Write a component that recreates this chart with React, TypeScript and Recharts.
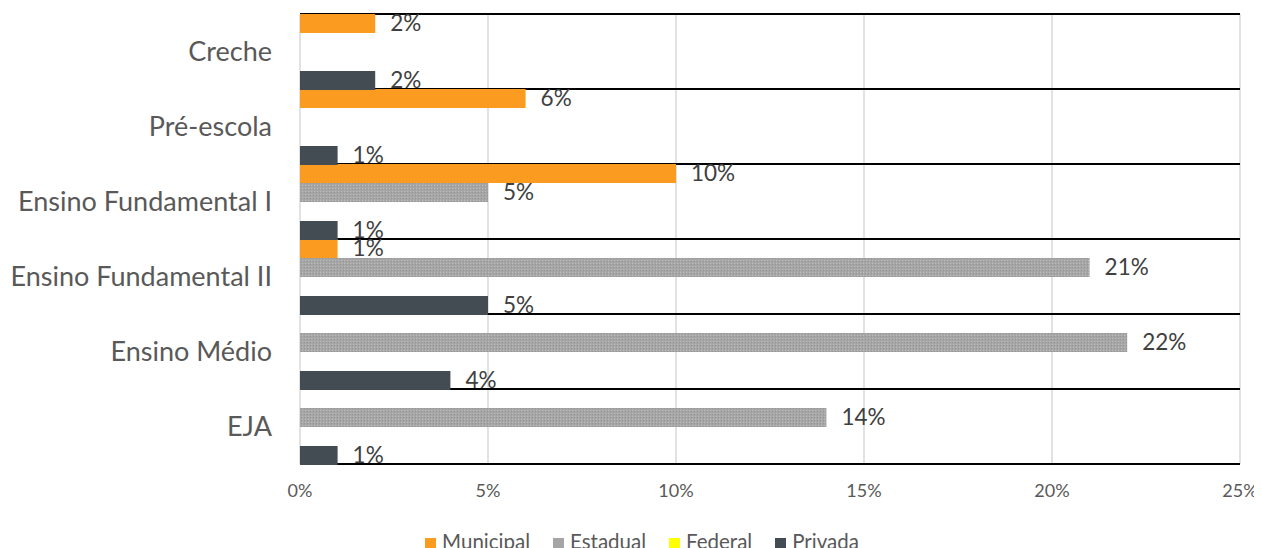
import { BarChart, Bar, XAxis, YAxis, CartesianGrid, LabelList } from 'recharts';

// Distribuição por etapa de ensino e rede (valores em %)
const categorias = ['Creche', 'Pré-escola', 'Ensino Fundamental I', 'Ensino Fundamental II', 'Ensino Médio', 'EJA'];
const municipal = [2, 6, 10, 1, 0, 0];
const estadual = [0, 0, 5, 21, 22, 14];
const federal = [0, 0, 0, 0, 0, 0];
const privada = [2, 1, 1, 5, 4, 1];
const ticksX = [0, 5, 10, 15, 20, 25];

const series = [
  { key: 'municipal', nome: 'Municipal', cor: '#FB9C20', fill: '#FB9C20' },
  { key: 'estadual', nome: 'Estadual', cor: '#A5A5A5', fill: 'url(#hachura)' },
  { key: 'federal', nome: 'Federal', cor: '#FFFF00', fill: '#FFFF00' },
  { key: 'privada', nome: 'Privada', cor: '#434B53', fill: '#434B53' },
];

const dados = categorias.map((cat, i) => ({
  cat,
  municipal: municipal[i],
  estadual: estadual[i],
  federal: federal[i],
  privada: privada[i],
}));

const FONTE = 'Lato, Carlito, Calibri, sans-serif';

export default function App() {
  return (
    <div style={{ position: 'relative', width: 1254, height: 540, fontFamily: FONTE }}>
      <BarChart width={1254} height={540} data={dados} layout="vertical"
        barCategoryGap={0} barGap={0}
        margin={{ top: 6, right: 22, bottom: 44, left: 0 }}>
        <defs>
          <pattern id="hachura" width="3" height="3" patternUnits="userSpaceOnUse">
            <rect width="3" height="3" fill="#A6A6A6" />
            <rect x="0" y="0" width="1" height="1" fill="#BDBDBD" />
            <rect x="2" y="1" width="1" height="1" fill="#959595" />
          </pattern>
        </defs>
        <CartesianGrid vertical={true} horizontal={false} stroke="#D9D9D9" strokeWidth={1.5} />
        <CartesianGrid vertical={false} stroke="#000" strokeWidth={2}
          horizontalCoordinatesGenerator={({ offset }: any) =>
            categorias.map((_, i) => offset.top + (i * offset.height) / categorias.length)
              .concat([offset.top + offset.height])} />
        <XAxis type="number" domain={[0, 25]} ticks={ticksX} tickFormatter={(v: number) => `${v}%`}
          axisLine={false} tickLine={false} tickSize={0} tickMargin={20} height={40}
          tick={{ fontSize: 18, fill: '#595959', fontFamily: FONTE }} />
        <YAxis type="category" dataKey="cat" width={292} axisLine={false} tickLine={false}
          tickSize={0} tickMargin={28}
          tick={{ fontSize: 27, fill: '#595959', fontFamily: FONTE }} />
        {series.map(s => (
          <Bar key={s.key} dataKey={s.key} name={s.nome} fill={s.fill} isAnimationActive={false}>
            <LabelList dataKey={s.key} position="right" offset={15}
              formatter={(v: any) => (Number(v) > 0 ? `${v}%` : '')}
              style={{ fontSize: 22.5, fill: '#404040', fontFamily: FONTE }} />
          </Bar>
        ))}
      </BarChart>
      <div style={{ position: 'absolute', top: 521, left: 7, width: 1254, display: 'flex',
        justifyContent: 'center', gap: 23, fontSize: 20.5, color: '#595959', lineHeight: '24px' }}>
        {series.map(s => (
          <div key={s.key} style={{ display: 'flex', alignItems: 'center' }}>
            <span style={{ display: 'inline-block', width: 11, height: 11, background: s.cor, marginRight: 6, marginTop: 4 }} />
            <span>{s.nome}</span>
          </div>
        ))}
      </div>
    </div>
  );
}
